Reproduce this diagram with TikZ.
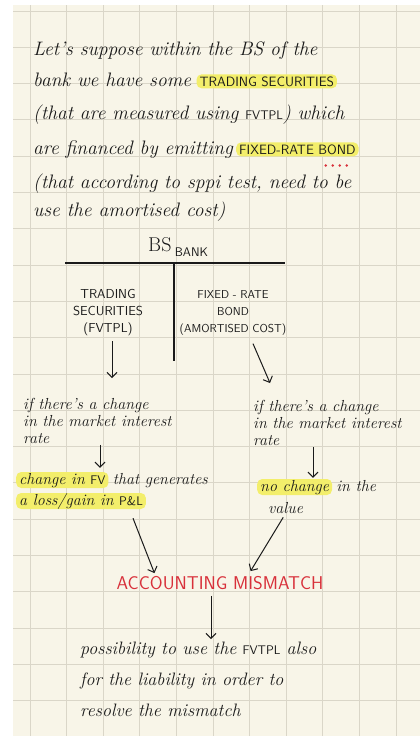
\documentclass[tikz,border=0pt]{standalone}
\usepackage{xcolor}
\definecolor{NTpaper}{HTML}{F8F5E8}
\definecolor{NTgrid}{HTML}{DAD6C8}
\definecolor{NTink}{HTML}{1A1A1A}
\definecolor{NThl}{HTML}{F3EE6B}
\definecolor{NTred}{HTML}{D8303A}
\usepackage{tikz}
\usetikzlibrary{positioning,arrows.meta}
\newcommand{\capsf}{\fontsize{12.5}{13}\selectfont\sffamily\upshape}

\begin{document}
\begin{tikzpicture}[x=1pt, y=-1pt,
  hand/.style={font=\fontsize{19.5}{32}\selectfont\itshape, text=NTink, inner sep=0pt, anchor=base west},
  note/.style={font=\fontsize{16}{17}\selectfont\itshape, text=NTink, inner sep=0pt, align=left},
  caps/.style={font=\capsf, text=NTink, inner sep=0pt},
  bigcaps/.style={caps, font=\fontsize{13.5}{15}\selectfont\sffamily},
  colhead/.style={caps, align=center, font=\fontsize{13}{17}\selectfont\sffamily},
  hl/.style={fill=NThl, inner xsep=3pt, inner ysep=2pt, rounded corners=5pt},
  hlnote/.style={note, hl, anchor=base west, text height=11pt, text depth=3pt, inner ysep=1pt},
  arr/.style={-{Straight Barb[length=5pt, width=10pt]}, line width=1pt, draw=NTink},
  gridline/.style={draw=NTgrid, line width=1pt}
]
\useasboundingbox (0,0) rectangle (420,736);
\fill[white] (0,0) rectangle (420,736);
\fill[NTpaper] (13,5) rectangle (420,736);
\foreach \gx in {0,...,10} \draw[gridline] (30+36.6*\gx,5) -- (30+36.6*\gx,736);
\foreach \gy in {0,...,19} \draw[gridline] (13,11+36.3*\gy) -- (420,11+36.3*\gy);

\node[hand] (p1) at (33,55) {Let's suppose within the BS of the};
\node[hand] (p2) at (33,86) {bank we have some};
\node[bigcaps, hl, base right=5pt of p2] (tsec) {TRADING SECURITIES};
\node[hand] (p3) at (33,119) {(that are measured using {\capsf FVTPL}) which};
\node[hand] (p4) at (33,154) {are financed by emitting};
\node[bigcaps, hl, base right=3pt of p4] (fbond) {FIXED-RATE BOND};
\draw[NTred, line width=2.8pt, dash pattern=on 0pt off 7pt, line cap=round]
  ([xshift=-33pt, yshift=-9pt]fbond.south east) -- ([xshift=-11pt, yshift=-9pt]fbond.south east);
\node[hand] (p5) at (33,188) {(that according to sppi test, need to be};
\node[hand] (p6) at (33,216) {use the amortised cost)};

\node[hand, font=\fontsize{20}{22}\selectfont\upshape] (bs) at (148,251) {BS\,\raisebox{-5pt}{\capsf BANK}};
\coordinate (tl) at (65,263);
\coordinate (tr) at (285,263);
\coordinate (tm) at (174,263);
\coordinate (tb) at (174,361);
\draw[line width=1.3pt, NTink] (tl) -- (tr);
\draw[line width=1.3pt, NTink] (tm) -- (tb);

\node[colhead] (tcol) at (108,313) {TRADING\\SECURITIES\\(FVTPL)};
\node[colhead, font=\fontsize{11.5}{17}\selectfont\sffamily] (bcol) at (233,313) {FIXED - RATE\\BOND\\(AMORTISED COST)};

\node[note, anchor=north west] (lnote) at (23,398) {if there's a change\\in the market interest\\rate};
\node[note, anchor=north west] (rnote) at (253,400) {if there's a change\\in the market interest\\rate};

\draw[arr] ([xshift=4pt, yshift=-5pt]tcol.south) -- ([xshift=89pt, yshift=20pt]lnote.north west);
\draw[arr] ([xshift=20pt, yshift=-8pt]bcol.south) -- ([xshift=17pt, yshift=17pt]rnote.north west);

\node[hlnote] (fv1) at (16,484) {change in {\capsf FV}};
\node[note, base right=4pt of fv1] (fv1b) {that generates};
\node[hlnote] (fv2) at (16,505) {a loss/gain in {\capsf P\&L}};
\node[hlnote] (nochg) at (257,491) {no change};
\node[note, base right=4pt of nochg] (nochgb) {in the};
\node[note, anchor=base west] (val) at (268,513) {value};

\draw[arr] ([xshift=77pt, yshift=-1pt]lnote.south west) -- ([xshift=84pt, yshift=4pt]fv1.north west);
\draw[arr] ([xshift=60pt, yshift=-1pt]rnote.south west) -- ([xshift=56pt, yshift=1pt]nochg.north west);

\node[caps, font=\fontsize{18.5}{20}\selectfont\sffamily, text=NTred] (acc) at (220,583) {ACCOUNTING MISMATCH};

\draw[arr] ([xshift=117pt, yshift=-9pt]fv2.south west) -- ([xshift=38pt, yshift=3pt]acc.north west);
\draw[arr] ([xshift=-20pt, yshift=-4pt]val.south east) -- ([xshift=-73pt, yshift=5pt]acc.north east);

\node[hand, anchor=north west, align=left, font=\fontsize{18}{31}\selectfont\itshape] (fin) at (80,642)
  {possibility to use the {\capsf FVTPL} also\\for the liability in order to\\resolve the mismatch};
\draw[arr] ([xshift=-9pt, yshift=-6pt]acc.south) -- ([xshift=131pt, yshift=3pt]fin.north west);
\end{tikzpicture}
\end{document}
